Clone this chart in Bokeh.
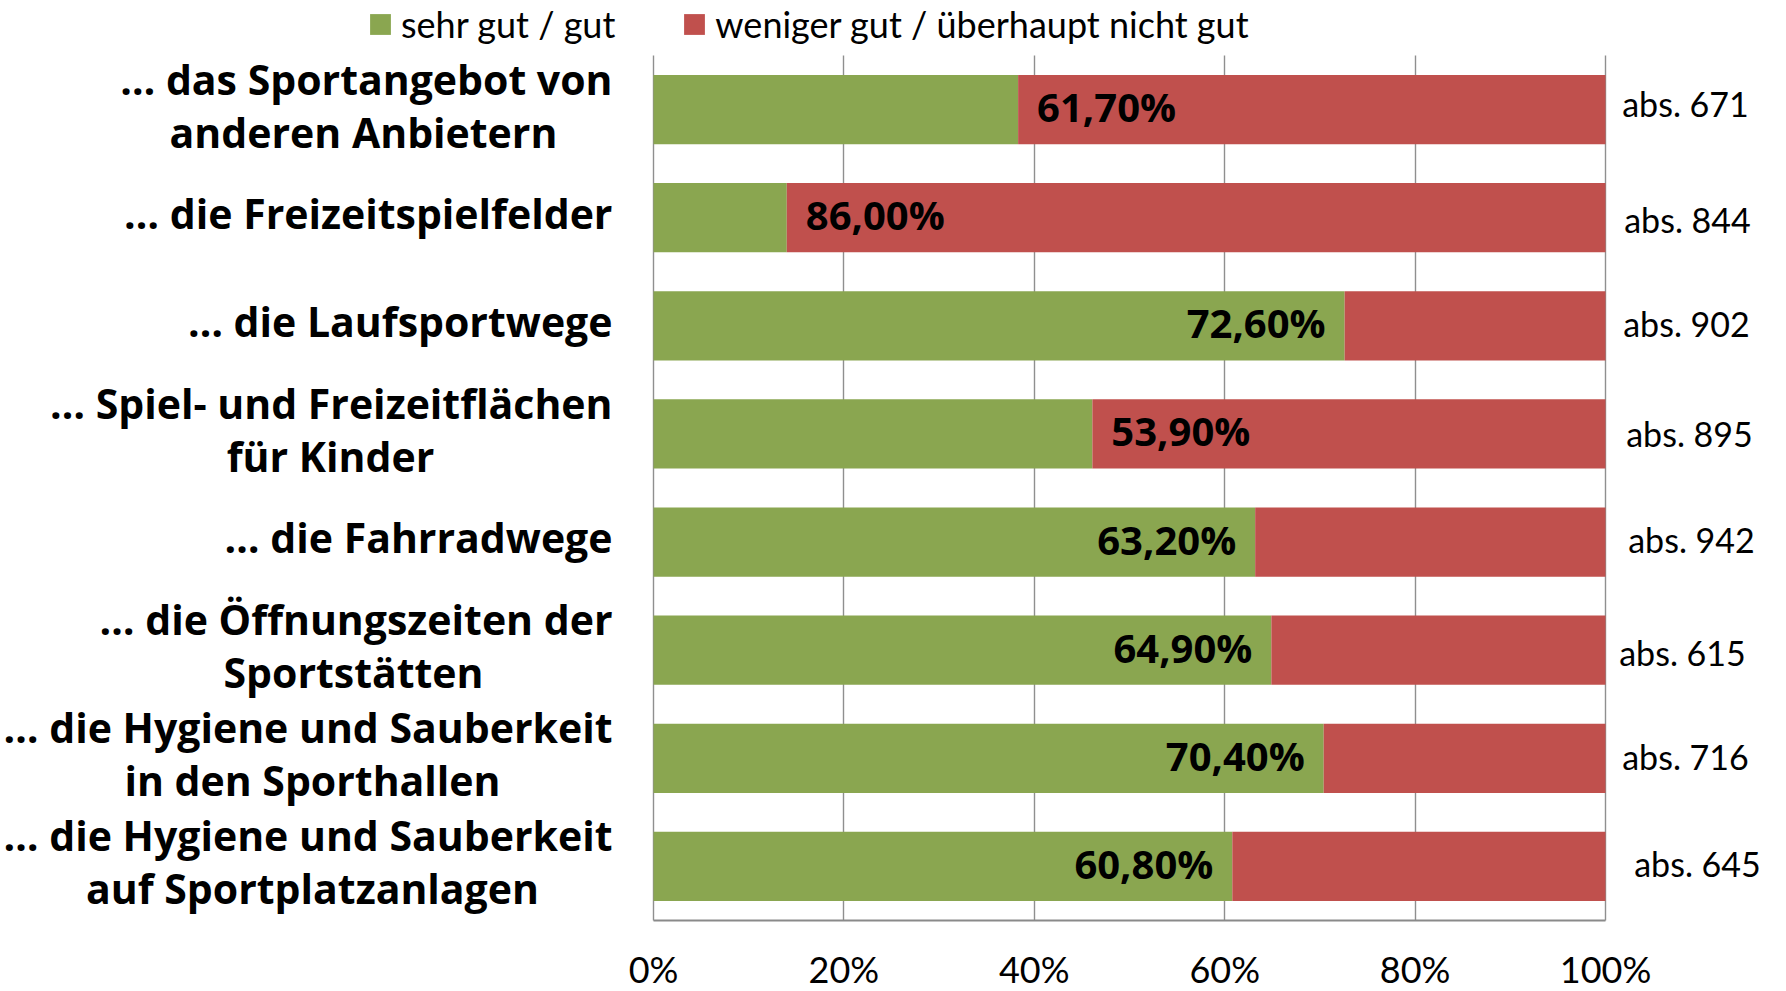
from bokeh.plotting import figure
from bokeh.models import (ColumnDataSource, Range1d, FixedTicker,
                          LabelSet, Legend, LegendItem)
from bokeh.core.properties import value
from bokeh.embed import file_html
from bokeh.resources import INLINE

# ---------------- data ----------------
categories = [
    "… das Sportangebot von anderen Anbietern",
    "… die Freizeitspielfelder",
    "… die Laufsportwege",
    "… Spiel- und Freizeitflächen für Kinder",
    "… die Fahrradwege",
    "… die Öffnungszeiten der Sportstätten",
    "… die Hygiene und Sauberkeit in den Sporthallen",
    "… die Hygiene und Sauberkeit auf Sportplatzanlagen",
]
label_line1 = [
    "… das Sportangebot von",
    "… die Freizeitspielfelder",
    "… die Laufsportwege",
    "… Spiel- und Freizeitflächen",
    "… die Fahrradwege",
    "… die Öffnungszeiten der",
    "… die Hygiene und Sauberkeit",
    "… die Hygiene und Sauberkeit",
]
label_line2 = [
    "anderen Anbietern",
    "",
    "",
    "für Kinder",
    "",
    "Sportstätten",
    "in den Sporthallen",
    "auf Sportplatzanlagen",
]
good = [38.3, 14.0, 72.6, 46.1, 63.2, 64.9, 70.4, 60.8]
bad = [61.7, 86.0, 27.4, 53.9, 36.8, 35.1, 29.6, 39.2]
abs_n = [671, 844, 902, 895, 942, 615, 716, 645]
series_names = ["sehr gut / gut", "weniger gut / überhaupt nicht gut"]
tick_values = [0, 20, 40, 60, 80, 100]
tick_labels = ["0%", "20%", "40%", "60%", "80%", "100%"]

# ---------------- layout / style ----------------
W, H = 1786, 991
PLOT_LEFT, PLOT_RIGHT = 653, 1605      # pixel span of 0 % .. 100 %
PLOT_TOP, PLOT_BOTTOM = 55, 920        # pixel span of the category bands
GREEN = "#8AA650"
RED = "#C0504D"
GRID = "#8f8f8f"
BOLD_FONT = "Open Sans"
LIGHT_FONT = "Lato"

# centre offsets (px, from the 0 % line) of the second label line
line2_center = [-290, 0, 0, -323, 0, -300, -341, -341]
# small per-row placement of the "abs." notes (px)
abs_dx = [80, 82, 81, 84, 86, 77, 80, 92]
abs_dy = [6, -2, 2, 0, 3, -2, 2, 3]

n = len(categories)
px_per_unit = (PLOT_RIGHT - PLOT_LEFT) / 100.0
x_start = -PLOT_LEFT / px_per_unit
x_end = 100 + (W - PLOT_RIGHT) / px_per_unit
band_px = (PLOT_BOTTOM - PLOT_TOP) / n
y_bottom = -0.5 - (H - PLOT_BOTTOM) / band_px
y_top = n - 0.5 + PLOT_TOP / band_px
ypos = [n - 1 - i for i in range(n)]   # first category on top


def pct(v):
    return f"{v:.2f}".replace(".", ",") + "%"


source = ColumnDataSource(dict(y=ypos, cat=categories, good=good, bad=bad))

p = figure(
    width=W, height=H,
    y_range=Range1d(y_bottom, y_top),
    x_range=Range1d(x_start, x_end),
    output_backend="svg", toolbar_location=None,
    min_border_left=0, min_border_right=0,
    min_border_top=0, min_border_bottom=0,
)
p.outline_line_color = None
p.background_fill_color = "white"

renderers = p.hbar_stack(["good", "bad"], y="y", height=0.64, source=source,
                         fill_color=[GREEN, RED], line_color=None)

# x axis drawn at the bottom edge of the category bands, only over 0..100 %
p.xaxis.fixed_location = -0.5
p.xaxis.ticker = FixedTicker(ticks=tick_values)
p.xaxis.bounds = (0, 100)
p.xaxis.major_label_overrides = {v: t for v, t in zip(tick_values, tick_labels)}
p.xaxis.major_label_text_font = LIGHT_FONT
p.xaxis.major_label_text_font_size = "36px"
p.xaxis.major_label_text_color = "black"
p.xaxis.major_label_standoff = 26
p.xaxis.major_tick_out = 0
p.xaxis.major_tick_in = 0
p.xaxis.minor_tick_out = 0
p.xaxis.minor_tick_in = 0
p.xaxis.axis_line_color = "#8a8a8a"
p.xaxis.axis_line_width = 2

p.yaxis.visible = False

p.xgrid.ticker = FixedTicker(ticks=tick_values)
p.xgrid.cross_bounds = (-0.5, n - 0.5)
p.xgrid.grid_line_color = GRID
p.xgrid.grid_line_width = 1.4
p.ygrid.grid_line_color = None

# category labels
one_line = [i for i in range(n) if not label_line2[i]]
two_line = [i for i in range(n) if label_line2[i]]

src_single = ColumnDataSource(dict(
    y=[ypos[i] for i in one_line],
    x=[0] * len(one_line),
    text=[label_line1[i] for i in one_line]))
src_first = ColumnDataSource(dict(
    y=[ypos[i] for i in two_line],
    x=[0] * len(two_line),
    text=[label_line1[i] for i in two_line]))
src_second = ColumnDataSource(dict(
    y=[ypos[i] for i in two_line],
    x=[0] * len(two_line),
    text=[label_line2[i] for i in two_line],
    xo=[line2_center[i] for i in two_line]))

common = dict(text_font=value(BOLD_FONT), text_font_style="bold",
              text_font_size=value("41px"), text_color="black",
              text_baseline="middle")
p.add_layout(LabelSet(x="x", y="y", text="text", source=src_single,
                      x_offset=-41, y_offset=5, text_align="right", **common))
p.add_layout(LabelSet(x="x", y="y", text="text", source=src_first,
                      x_offset=-41, y_offset=31, text_align="right", **common))
p.add_layout(LabelSet(x="x", y="y", text="text", source=src_second,
                      x_offset="xo", y_offset=-22, text_align="center", **common))

# value labels inside the bars
right_idx = [i for i in range(n) if good[i] >= bad[i]]
left_idx = [i for i in range(n) if good[i] < bad[i]]
src_vr = ColumnDataSource(dict(y=[ypos[i] for i in right_idx],
                               x=[good[i] for i in right_idx],
                               text=[pct(good[i]) for i in right_idx]))
src_vl = ColumnDataSource(dict(y=[ypos[i] for i in left_idx],
                               x=[good[i] for i in left_idx],
                               text=[pct(bad[i]) for i in left_idx]))
vcommon = dict(common, text_font_size=value("40px"))
p.add_layout(LabelSet(x="x", y="y", text="text", source=src_vr,
                      x_offset=-19, y_offset=3, text_align="right", **vcommon))
p.add_layout(LabelSet(x="x", y="y", text="text", source=src_vl,
                      x_offset=19, y_offset=3, text_align="left", **vcommon))

# abs labels to the right
src_abs = ColumnDataSource(dict(y=ypos, x=[100] * n,
                                text=[f"abs. {v}" for v in abs_n],
                                dx=abs_dx, dy=abs_dy))
p.add_layout(LabelSet(x="x", y="y", text="text", source=src_abs,
                      x_offset="dx", y_offset="dy", text_align="center",
                      text_baseline="middle", text_font=value(LIGHT_FONT),
                      text_font_size=value("34px"), text_color="black"))

# legend above the bars (inside the frame)
legend = Legend(
    items=[LegendItem(label=series_names[0], renderers=[renderers[0]]),
           LegendItem(label=series_names[1], renderers=[renderers[1]])],
    location=(367, H - 46), orientation="horizontal",
    glyph_width=26, glyph_height=26, label_standoff=8, spacing=66,
    padding=0, margin=0, border_line_color=None, background_fill_alpha=0,
    label_text_font=LIGHT_FONT, label_text_font_size="36px", label_text_color="black",
    label_height=21,
)
p.add_layout(legend)

open("out.html", "w").write(file_html(p, INLINE))
